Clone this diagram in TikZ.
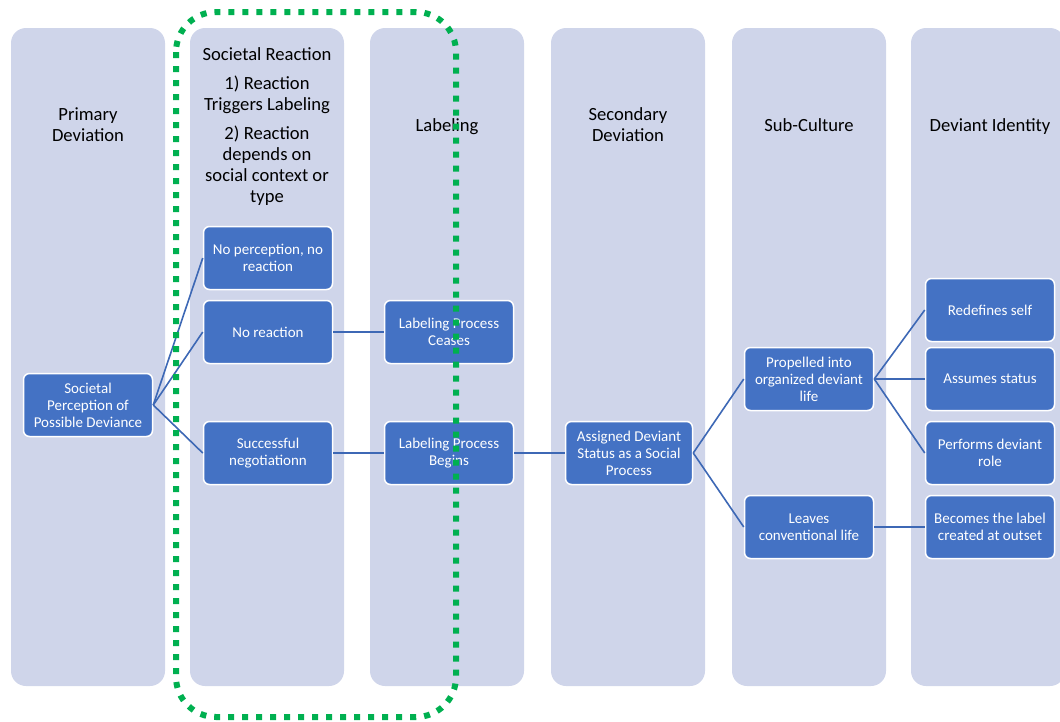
\documentclass[tikz,border=0pt]{standalone}
\usepackage{fontspec}
\setmainfont{Carlito}
\definecolor{lanefill}{HTML}{CFD5EA}
\definecolor{boxblue}{HTML}{4472C4}
\definecolor{wire}{HTML}{3D68B5}
\definecolor{hilite}{HTML}{00B050}
\begin{document}
\begin{tikzpicture}[x=1pt,y=-1pt,
  lane/.style={fill=lanefill, rounded corners=15pt},
  head/.style={align=center, font=\fontsize{18.6}{21}\selectfont, text=black, inner sep=0pt},
  stepbox/.style={draw=white, line width=1.5pt, fill=boxblue, rounded corners=6pt,
    text=white, align=center, font=\fontsize{15}{17}\selectfont,
    minimum width=129pt, minimum height=63pt, inner sep=0pt},
  link/.style={draw=wire, line width=1.6pt},
  ring/.style={draw=hilite, line width=6pt, dash pattern=on 6pt off 8pt, rounded corners=40pt}]
\useasboundingbox (0,0) rectangle (1060,721);
\clip (0,0) rectangle (1060,721);

% swim lanes
\foreach \x in {11,190,370,551,732,911}
  \path[lane] (\x,28) rectangle ++(154,658);

% lane headings
\node[head] (h1) at (88,125) {Primary\\Deviation};
\node[head] (h2a) at (267,54) {Societal Reaction};
\node[head] (h2b) at (267,95) {1) Reaction\\Triggers Labeling};
\node[head] (h2c) at (267,165.5) {2) Reaction\\depends on\\social context or\\type};
\node[head] (h3) at (447,127) {Labeling};
\node[head] (h4) at (628,125) {Secondary\\Deviation};
\node[head] (h5) at (809,125) {Sub-Culture};
\node[head] (h6) at (990,126.5) {Deviant Identity};

% process boxes
\node[stepbox] (perc) at (88,405) {Societal\\Perception of\\Possible Deviance};
\node[stepbox] (nopr) at (268,258) {No perception, no\\reaction};
\node[stepbox] (norx) at (268,332) {No reaction};
\node[stepbox] (succ) at (268,453) {Successful\\negotiationn};
\node[stepbox] (ceas) at (449,332) {Labeling Process\\Ceases};
\node[stepbox] (begn) at (449,453) {Labeling Process\\Begins};
\node[stepbox, minimum width=127pt] (asgn) at (629,453) {Assigned Deviant\\Status as a Social\\Process};
\node[stepbox] (prop) at (809,379) {Propelled into\\organized deviant\\life};
\node[stepbox] (leav) at (809,527) {Leaves\\conventional life};
\node[stepbox] (redf) at (990,310) {Redefines self};
\node[stepbox] (asum) at (990,379) {Assumes status};
\node[stepbox] (perf) at (990,453) {Performs deviant\\role};
\node[stepbox] (beco) at (990,527) {Becomes the label\\created at outset};

% connectors
\draw[link] (perc.east) -- (nopr.west);
\draw[link] (perc.east) -- (norx.west);
\draw[link] (perc.east) -- (succ.west);
\draw[link] (norx.east) -- (ceas.west);
\draw[link] (succ.east) -- (begn.west);
\draw[link] (begn.east) -- (asgn.west);
\draw[link] (asgn.east) -- (prop.west);
\draw[link] (asgn.east) -- (leav.west);
\draw[link] (prop.east) -- (redf.west);
\draw[link] (prop.east) -- (asum.west);
\draw[link] (prop.east) -- (perf.west);
\draw[link] (leav.east) -- (beco.west);

% highlighted region
\path[ring] (176,12) rectangle (456,717);
\end{tikzpicture}
\end{document}
